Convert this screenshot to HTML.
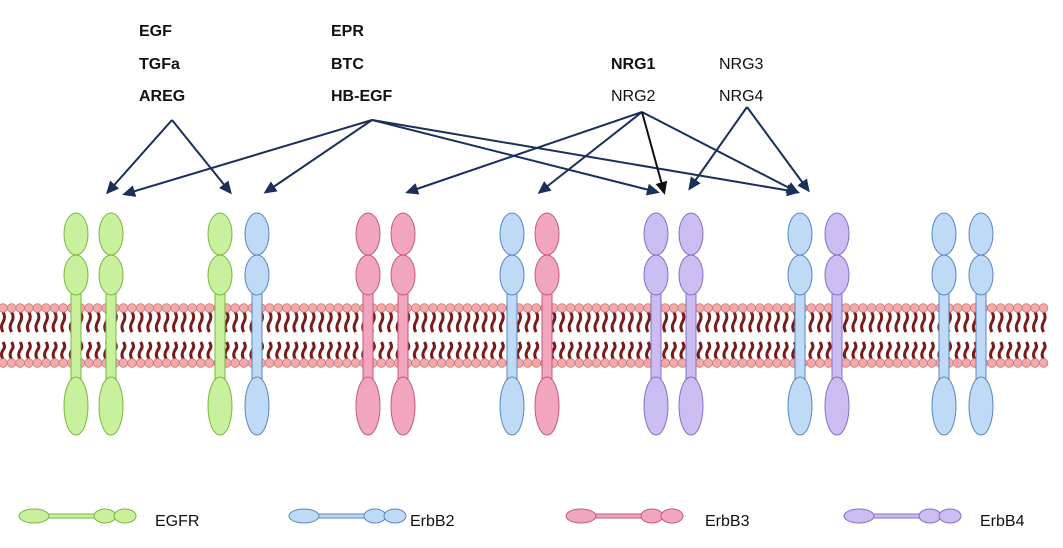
<!DOCTYPE html>
<html><head><meta charset="utf-8"><style>
body{margin:0;background:#fff}
svg{display:block}
text{font-family:"Liberation Sans",sans-serif;font-size:16px;fill:#111}
.b{font-weight:bold}
</style></head><body>
<svg id="s" width="1063" height="548" viewBox="0 0 1063 548">
<defs>
<marker id="a" markerWidth="13" markerHeight="12" refX="10" refY="6" orient="auto" markerUnits="userSpaceOnUse" viewBox="0 0 13 12"><path d="M0,0 L13,6 L0,12 z" fill="#1a2f5a"/></marker>
<marker id="k" markerWidth="13" markerHeight="12" refX="10" refY="6" orient="auto" markerUnits="userSpaceOnUse" viewBox="0 0 13 12"><path d="M0,0 L13,6 L0,12 z" fill="#111"/></marker>
</defs>
<g id="mem"></g>
<g id="rec"></g>
<g fill="none" stroke="#1a2f5a" stroke-width="2" marker-end="url(#a)">
<path d="M172,120 L108,192"/><path d="M172,120 L230,192"/>
<path d="M372,120 L125,194"/><path d="M372,120 L266,192"/><path d="M372,120 L657,192"/><path d="M372,120 L797,192"/>
<path d="M642,112 L408,192"/><path d="M642,112 L540,192"/><path d="M642,112 L797,192"/>
<path d="M747,107 L690,188"/><path d="M747,107 L808,190"/>
</g>
<path d="M642,112 L664,192" stroke="#111" stroke-width="2" fill="none" marker-end="url(#k)"/>
<text class="b" x="139" y="36">EGF</text><text class="b" x="139" y="69">TGFa</text><text class="b" x="139" y="101">AREG</text>
<text class="b" x="331" y="36">EPR</text><text class="b" x="331" y="69">BTC</text><text class="b" x="331" y="101">HB-EGF</text>
<text class="b" x="611" y="69">NRG1</text><text x="611" y="101">NRG2</text>
<text x="719" y="69">NRG3</text><text x="719" y="101">NRG4</text>
<g id="leg"></g>
<text x="155" y="526">EGFR</text><text x="410" y="526">ErbB2</text><text x="705" y="526">ErbB3</text><text x="980" y="526">ErbB4</text>
</svg>
<script>
var ns="http://www.w3.org/2000/svg";
function el(p,t,a){var e=document.createElementNS(ns,t);for(var k in a)e.setAttribute(k,a[k]);p.appendChild(e);return e;}
var m=document.getElementById("mem");
for(var x=3;x<1052;x+=8.6){
 var d1="M"+x+",312 q3,5 0,10 q-3,5 0,10";
 el(m,"path",{d:d1,stroke:"#7a1a1a","stroke-width":3,fill:"none"});
 var d2="M"+x+",342 q3,5 0,8 q-3,5 0,9";
 el(m,"path",{d:d2,stroke:"#7a1a1a","stroke-width":3,fill:"none"});
 el(m,"circle",{cx:x,cy:308,r:4.3,fill:"#f4aaaa",stroke:"#d07878","stroke-width":0.8});
 el(m,"circle",{cx:x,cy:363,r:4.3,fill:"#f4aaaa",stroke:"#d07878","stroke-width":0.8});
}
var C={g:["#c9f09c","#78b83e"],b:["#bfdaf6","#5a86bd"],p:["#f2a6bd","#c25a80"],u:["#cbbcf2","#8670c2"]};
var R=[[76,"g"],[111,"g"],[220,"g"],[257,"b"],[368,"p"],[403,"p"],[512,"b"],[547,"p"],[656,"u"],[691,"u"],[800,"b"],[837,"u"],[944,"b"],[981,"b"]];
var r=document.getElementById("rec");
R.forEach(function(q){var x=q[0],c=C[q[1]];
 el(r,"rect",{x:x-5,y:290,width:10,height:92,fill:c[0],stroke:c[1],"stroke-width":1});
 el(r,"ellipse",{cx:x,cy:234,rx:12,ry:21,fill:c[0],stroke:c[1],"stroke-width":1});
 el(r,"ellipse",{cx:x,cy:275,rx:12,ry:20,fill:c[0],stroke:c[1],"stroke-width":1});
 el(r,"ellipse",{cx:x,cy:406,rx:12,ry:29,fill:c[0],stroke:c[1],"stroke-width":1});
});
var L=[[20,"g"],[290,"b"],[567,"p"],[845,"u"]];
var g=document.getElementById("leg");
L.forEach(function(q){var x=q[0],c=C[q[1]];
 el(g,"rect",{x:x+25,y:514,width:70,height:4,fill:c[0],stroke:c[1],"stroke-width":1});
 el(g,"ellipse",{cx:x+14,cy:516,rx:15,ry:7,fill:c[0],stroke:c[1],"stroke-width":1});
 el(g,"ellipse",{cx:x+85,cy:516,rx:11,ry:7,fill:c[0],stroke:c[1],"stroke-width":1});
 el(g,"ellipse",{cx:x+105,cy:516,rx:11,ry:7,fill:c[0],stroke:c[1],"stroke-width":1});
});
</script>
</body></html>
